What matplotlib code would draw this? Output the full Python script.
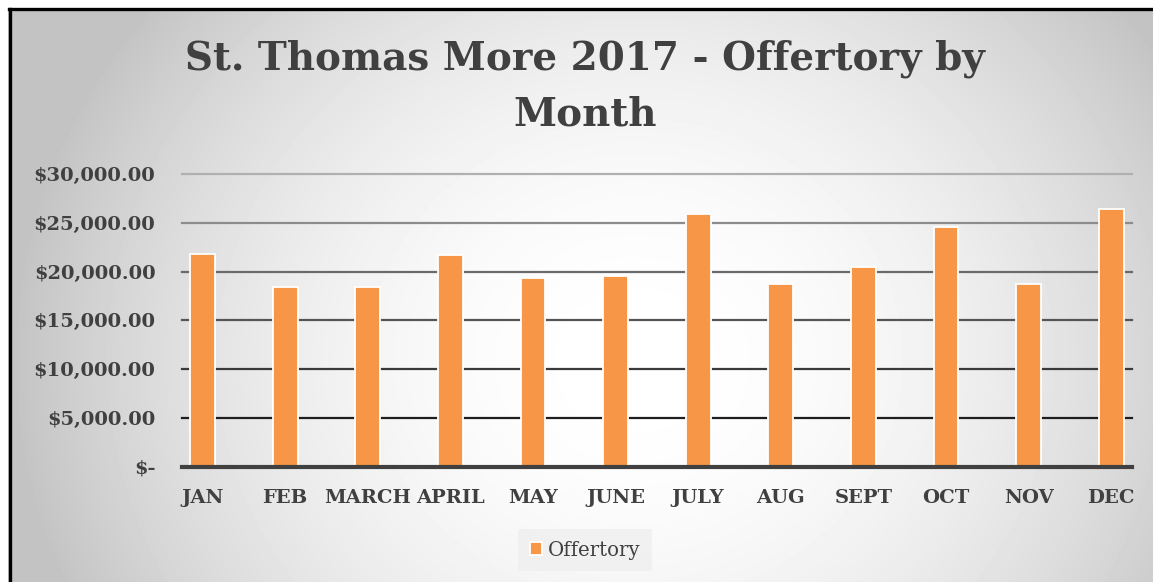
import numpy as np
import matplotlib
matplotlib.use("Agg")
import matplotlib.pyplot as plt
from matplotlib.lines import Line2D

# ---- data ----
months = ["JAN", "FEB", "MARCH", "APRIL", "MAY", "JUNE", "JULY", "AUG", "SEPT", "OCT", "NOV", "DEC"]
offertory = [21780, 18360, 18420, 21680, 19320, 19520, 25920, 18730, 20480, 24590, 18730, 26440]
y_ticks = [0, 5000, 10000, 15000, 20000, 25000, 30000]
y_tick_labels = ["$-", "$5,000.00", "$10,000.00", "$15,000.00", "$20,000.00", "$25,000.00", "$30,000.00"]
title = "St. Thomas More 2017 - Offertory by\nMonth"
series_name = "Offertory"

FAM = "DejaVu Serif"

W, H, DPI = 1153, 582, 100
fig = plt.figure(figsize=(W / DPI, H / DPI), dpi=DPI)
fig.patch.set_facecolor("white")

# ---- radial gradient background inside chart frame ----
bg = fig.add_axes([0, 0, 1, 1], zorder=-10)
bg.set_axis_off()
yy, xx = np.mgrid[0:H, 0:W]
cx, cy = 635, 360
d = np.hypot((xx - cx) * 0.95, (yy - cy) * 1.05)
drop = np.minimum(60, 1.7e-4 * d ** 2)
img = (255 - drop) / 255.0
img[:8, :] = 1.0
img[:, :8] = 1.0
bg.imshow(img, cmap="gray", vmin=0, vmax=1, extent=[0, W, H, 0], aspect="auto", interpolation="bilinear")
bg.set_xlim(0, W)
bg.set_ylim(H, 0)
bg.add_line(Line2D([9.5, 9.5], [8.5, H], color="black", lw=2.4))
bg.add_line(Line2D([8.5, W], [8.5, 8.5], color="black", lw=2.4))

# ---- main axes ----
left_px, right_px = 181.85, 1131.85
bottom_px, top_px = 466.5, 174.0
ax = fig.add_axes([left_px / W, 1 - bottom_px / H, (right_px - left_px) / W, (bottom_px - top_px) / H])
ax.set_facecolor("none")

x = np.arange(len(months))
bars = ax.bar(x, offertory, width=0.30, color="#F79646", edgecolor="white", linewidth=1.3,
              zorder=3, label=series_name)

ax.set_xlim(-0.25, len(months) - 0.75)
ax.set_ylim(0, 30000)
ax.set_yticks(y_ticks)
ax.set_yticklabels(y_tick_labels)
ax.set_xticks(x)
ax.set_xticklabels(months)

tick_size = 14
for t in ax.get_yticklabels() + ax.get_xticklabels():
    t.set_fontfamily(FAM); t.set_fontweight("bold"); t.set_fontsize(tick_size); t.set_color("#404040")
ax.tick_params(axis="y", length=0, pad=19)
ax.tick_params(axis="x", length=0, pad=16)

ax.grid(axis="y", linewidth=1.6, zorder=1)
ax.set_axisbelow(True)
grid_colors = ["#404040", "#1e1e1e", "#3a3a3a", "#555555", "#6a6a6a", "#8c8c8c", "#b0b0b0"]
for gl, c in zip(ax.get_ygridlines(), grid_colors):
    gl.set_color(c)
    gl.set_clip_on(False)

for s in ["left", "right", "top"]:
    ax.spines[s].set_visible(False)
ax.spines["bottom"].set_color("#404040")
ax.spines["bottom"].set_linewidth(3.0)
ax.spines["bottom"].set_zorder(4)

# ---- title ----
fig.text(585 / W, 1 - 40 / H, title, ha="center", va="top", fontsize=28,
         fontfamily=FAM, fontweight="bold", color="#404040", linespacing=1.58)

# ---- legend ----
leg = fig.legend(handles=[bars], labels=[series_name], loc="center",
                 bbox_to_anchor=(585 / W, 1 - 550 / H), frameon=True, fancybox=False,
                 handlelength=0.6, handleheight=0.6, handletextpad=0.3,
                 borderpad=0.6, prop=dict(family=FAM, size=14.2))
leg.get_frame().set_facecolor("#efefef")
leg.get_frame().set_edgecolor("none")
for t in leg.get_texts():
    t.set_color("#404040")

fig.savefig("out.png", dpi=DPI)
